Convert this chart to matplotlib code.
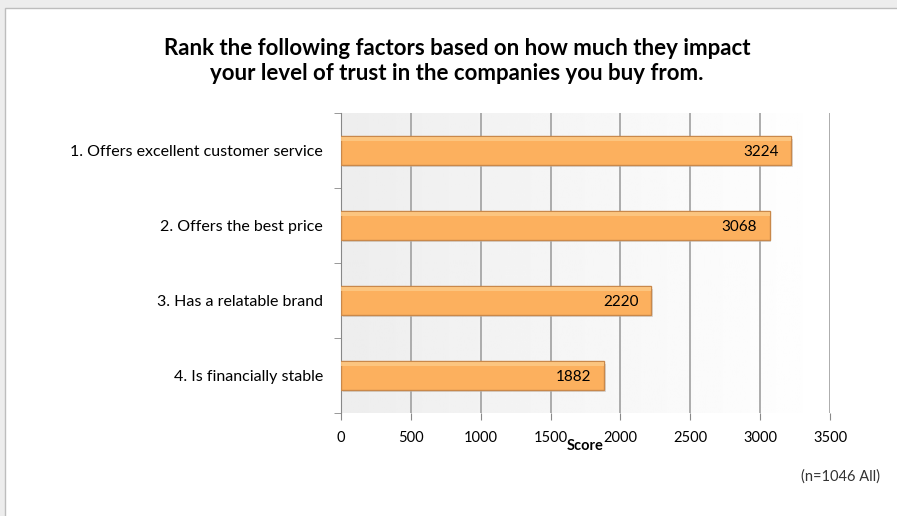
import numpy as np
import matplotlib.pyplot as plt
from matplotlib.patches import Rectangle

factors = ["1. Offers excellent customer service",
           "2. Offers the best price",
           "3. Has a relatable brand",
           "4. Is financially stable"]
scores = [3224, 3068, 2220, 1882]
xticks = [0, 500, 1000, 1500, 2000, 2500, 3000, 3500]

plt.rcParams['font.family'] = ['Lato', 'DejaVu Sans']

fig = plt.figure(figsize=(8.97, 5.16), dpi=100)
fig.patch.set_facecolor('#EDEDED')
# white chart area with thin border
fig.patches.append(Rectangle((5 / 897, -0.01), 1.0, 1 - 8 / 516 + 0.01,
                             transform=fig.transFigure, facecolor='white',
                             edgecolor='#BDBDBD', linewidth=1.0, zorder=-5))

ax = fig.add_axes([341 / 897, 1 - 413 / 516, (830 - 341) / 897, 300 / 516])
ax.set_xlim(0, 3500)
ax.set_ylim(len(factors) - 0.5, -0.5)

# background gradient, light gray -> white
grad = np.linspace(0.93, 1.0, 256).reshape(1, -1)
ax.imshow(grad, cmap='gray', vmin=0, vmax=1, aspect='auto',
          extent=[0, 3500, len(factors) - 0.5, -0.5], zorder=0)

for x in xticks:
    ax.axvline(x, color='#A6A6A6', linewidth=1.3, zorder=1)

y = np.arange(len(factors))
h = 0.38
# shadow
ax.barh(y + 0.03, scores, height=h, left=12, color='#BBBBBB', alpha=0.5, zorder=2)
ax.barh(y, scores, height=h, color='#FCB05E', edgecolor='#C9884A',
        linewidth=1.0, zorder=3)
# soft highlight near top of bars
ax.barh(y - h / 2 + 0.035, scores, height=0.045, color='#FDCB88', zorder=4,
        linewidth=0, alpha=0.8)
for yi, s in zip(y, scores):
    ax.text(s - 90, yi + 0.02, str(s), ha='right', va='center', fontsize=11,
            color='black', zorder=5)

ax.set_xticks(xticks)
ax.set_xticklabels([str(t) for t in xticks], fontsize=10.5)
ax.set_yticks(y)
ax.set_yticklabels(factors, fontsize=11.5)
ax.set_yticks(np.arange(len(factors) + 1) - 0.5, minor=True)
ax.tick_params(axis='y', which='major', length=0, pad=13)
ax.tick_params(axis='y', which='minor', length=5, color='#888888')
ax.tick_params(axis='x', length=5, color='#888888', pad=8)
for side in ['top', 'right', 'bottom']:
    ax.spines[side].set_visible(False)
ax.spines['left'].set_color('#888888')

ax.set_xlabel('Score', fontsize=10.5, fontweight='bold', labelpad=-4)

fig.text(457 / 897, 1 - 61 / 516,
         "Rank the following factors based on how much they impact\n"
         "your level of trust in the companies you buy from.",
         ha='center', va='center', fontsize=16, fontweight='bold',
         linespacing=1.2)
fig.text(880 / 897, 1 - 477 / 516, "(n=1046 All)", ha='right', va='center',
         fontsize=10.5, color='#333333')

fig.savefig('out.png', dpi=100, facecolor=fig.get_facecolor())
